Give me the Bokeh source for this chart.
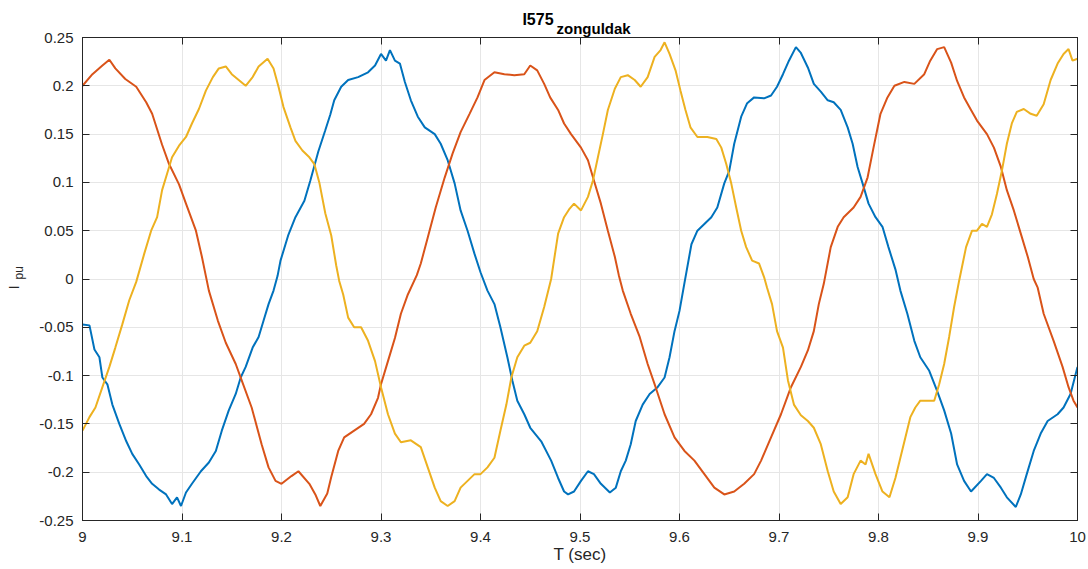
from bokeh.plotting import figure
from bokeh.models import Range1d, LinearAxis, FixedTicker, Label, CustomJSTickFormatter
from bokeh.embed import file_html
from bokeh.resources import INLINE
import math

# ---------------- data ----------------
x_ticks = [9, 9.1, 9.2, 9.3, 9.4, 9.5, 9.6, 9.7, 9.8, 9.9, 10]
x_tick_labels = ["9", "9.1", "9.2", "9.3", "9.4", "9.5", "9.6", "9.7", "9.8", "9.9", "10"]
y_ticks = [-0.25, -0.2, -0.15, -0.1, -0.05, 0, 0.05, 0.1, 0.15, 0.2, 0.25]
y_tick_labels = ["-0.25", "-0.2", "-0.15", "-0.1", "-0.05", "0", "0.05", "0.1", "0.15", "0.2", "0.25"]

t_blue = [9.000, 9.007, 9.012, 9.017, 9.020, 9.025, 9.030, 9.037, 9.044, 9.050, 9.057, 9.064, 9.070,
          9.077, 9.084, 9.090, 9.095, 9.099, 9.104, 9.110, 9.119, 9.127, 9.134, 9.140, 9.147, 9.154,
          9.159, 9.164, 9.171, 9.177, 9.182, 9.187, 9.192, 9.196, 9.199, 9.207, 9.214, 9.223, 9.229,
          9.237, 9.244, 9.249, 9.253, 9.260, 9.267, 9.277, 9.287, 9.294, 9.300, 9.305, 9.309, 9.314,
          9.319, 9.324, 9.330, 9.337, 9.344, 9.354, 9.360, 9.367, 9.374, 9.380, 9.387, 9.394, 9.400,
          9.407, 9.414, 9.420, 9.427, 9.432, 9.437, 9.444, 9.450, 9.461, 9.471, 9.478, 9.484, 9.488,
          9.494, 9.501, 9.508, 9.514, 9.521, 9.530, 9.536, 9.541, 9.546, 9.551, 9.556, 9.563, 9.570,
          9.578, 9.585, 9.590, 9.595, 9.600, 9.605, 9.612, 9.618, 9.625, 9.632, 9.638, 9.645, 9.650,
          9.655, 9.662, 9.668, 9.675, 9.685, 9.692, 9.698, 9.704, 9.710, 9.717, 9.722, 9.729, 9.735,
          9.742, 9.749, 9.755, 9.762, 9.769, 9.774, 9.779, 9.784, 9.790, 9.797, 9.804, 9.810, 9.817,
          9.822, 9.829, 9.836, 9.842, 9.851, 9.859, 9.866, 9.873, 9.879, 9.886, 9.893, 9.903, 9.909,
          9.916, 9.923, 9.929, 9.938, 9.943, 9.949, 9.956, 9.963, 9.970, 9.980, 9.986, 9.993, 10.000]
i_blue = [-0.047, -0.048, -0.073, -0.081, -0.102, -0.109, -0.130, -0.150, -0.168, -0.181, -0.192, -0.204, -0.212,
          -0.218, -0.223, -0.233, -0.226, -0.235, -0.221, -0.212, -0.199, -0.190, -0.178, -0.157, -0.136, -0.119,
          -0.102, -0.091, -0.071, -0.060, -0.043, -0.026, -0.012, 0.003, 0.019, 0.046, 0.064, 0.081, 0.102,
          0.132, 0.154, 0.170, 0.185, 0.199, 0.206, 0.209, 0.214, 0.221, 0.233, 0.226, 0.237, 0.226,
          0.223, 0.204, 0.185, 0.168, 0.157, 0.150, 0.140, 0.123, 0.099, 0.071, 0.050, 0.026, 0.007,
          -0.012, -0.026, -0.050, -0.081, -0.105, -0.126, -0.140, -0.154, -0.168, -0.188, -0.206, -0.220, -0.223,
          -0.220, -0.209, -0.199, -0.202, -0.212, -0.221, -0.216, -0.199, -0.188, -0.171, -0.147, -0.130, -0.119,
          -0.112, -0.102, -0.081, -0.054, -0.033, -0.004, 0.036, 0.050, 0.057, 0.064, 0.074, 0.099, 0.112,
          0.140, 0.168, 0.182, 0.188, 0.187, 0.190, 0.199, 0.212, 0.226, 0.240, 0.234, 0.219, 0.202,
          0.194, 0.185, 0.183, 0.175, 0.157, 0.140, 0.116, 0.099, 0.078, 0.064, 0.054, 0.033, 0.010,
          -0.012, -0.036, -0.064, -0.081, -0.095, -0.116, -0.136, -0.160, -0.192, -0.209, -0.220, -0.209, -0.202,
          -0.206, -0.216, -0.226, -0.236, -0.223, -0.202, -0.178, -0.160, -0.147, -0.140, -0.133, -0.119, -0.091]

t_red = [9.000, 9.010, 9.020, 9.027, 9.033, 9.043, 9.054, 9.064, 9.070, 9.080, 9.087, 9.097, 9.104,
         9.114, 9.120, 9.124, 9.127, 9.136, 9.144, 9.154, 9.160, 9.170, 9.180, 9.187, 9.194, 9.200,
         9.210, 9.217, 9.228, 9.234, 9.239, 9.246, 9.250, 9.257, 9.263, 9.273, 9.283, 9.290, 9.297,
         9.300, 9.307, 9.314, 9.320, 9.327, 9.336, 9.340, 9.347, 9.355, 9.364, 9.372, 9.380, 9.389,
         9.397, 9.404, 9.414, 9.424, 9.434, 9.444, 9.450, 9.457, 9.464, 9.470, 9.478, 9.484, 9.491,
         9.501, 9.508, 9.514, 9.521, 9.528, 9.535, 9.539, 9.543, 9.551, 9.560, 9.568, 9.576, 9.585,
         9.595, 9.605, 9.615, 9.625, 9.635, 9.645, 9.655, 9.665, 9.675, 9.682, 9.692, 9.702, 9.712,
         9.722, 9.729, 9.735, 9.740, 9.745, 9.752, 9.759, 9.765, 9.775, 9.782, 9.789, 9.795, 9.802,
         9.809, 9.816, 9.826, 9.836, 9.846, 9.852, 9.859, 9.866, 9.873, 9.879, 9.886, 9.893, 9.899,
         9.909, 9.916, 9.923, 9.929, 9.936, 9.943, 9.950, 9.956, 9.960, 9.966, 9.976, 9.985, 9.991,
         9.996, 10.000]
i_red = [0.200, 0.212, 0.221, 0.227, 0.218, 0.207, 0.199, 0.183, 0.171, 0.139, 0.119, 0.098, 0.078,
         0.050, 0.023, 0.003, -0.012, -0.043, -0.066, -0.088, -0.105, -0.133, -0.171, -0.195, -0.209, -0.212,
         -0.204, -0.199, -0.212, -0.223, -0.235, -0.222, -0.205, -0.178, -0.164, -0.157, -0.150, -0.140, -0.123,
         -0.109, -0.085, -0.061, -0.036, -0.016, 0.004, 0.016, 0.043, 0.074, 0.105, 0.130, 0.152, 0.171,
         0.188, 0.206, 0.214, 0.212, 0.211, 0.212, 0.221, 0.216, 0.202, 0.188, 0.175, 0.161, 0.150,
         0.136, 0.123, 0.102, 0.078, 0.050, 0.023, 0.004, -0.012, -0.036, -0.060, -0.088, -0.112, -0.140,
         -0.164, -0.178, -0.188, -0.202, -0.216, -0.223, -0.220, -0.212, -0.202, -0.188, -0.164, -0.140, -0.112,
         -0.091, -0.074, -0.054, -0.026, -0.005, 0.033, 0.054, 0.064, 0.074, 0.085, 0.105, 0.136, 0.171,
         0.188, 0.200, 0.204, 0.202, 0.212, 0.226, 0.238, 0.240, 0.224, 0.205, 0.188, 0.175, 0.164,
         0.150, 0.136, 0.116, 0.092, 0.071, 0.047, 0.023, 0.000, -0.009, -0.036, -0.064, -0.091, -0.112,
         -0.126, -0.133]

t_yellow = [9.000, 9.007, 9.013, 9.020, 9.027, 9.033, 9.040, 9.047, 9.054, 9.062, 9.069, 9.075, 9.080,
            9.085, 9.090, 9.097, 9.104, 9.110, 9.117, 9.124, 9.131, 9.137, 9.144, 9.150, 9.157, 9.164,
            9.171, 9.177, 9.186, 9.192, 9.197, 9.202, 9.209, 9.214, 9.221, 9.228, 9.233, 9.238, 9.244,
            9.250, 9.255, 9.258, 9.262, 9.267, 9.273, 9.280, 9.287, 9.294, 9.300, 9.307, 9.314, 9.320,
            9.330, 9.340, 9.347, 9.354, 9.360, 9.367, 9.374, 9.380, 9.387, 9.394, 9.400, 9.407, 9.414,
            9.420, 9.426, 9.431, 9.437, 9.444, 9.450, 9.457, 9.464, 9.471, 9.478, 9.484, 9.489, 9.494,
            9.501, 9.508, 9.513, 9.518, 9.523, 9.528, 9.535, 9.541, 9.548, 9.555, 9.561, 9.568, 9.575,
            9.581, 9.585, 9.590, 9.596, 9.601, 9.606, 9.611, 9.618, 9.628, 9.637, 9.642, 9.647, 9.652,
            9.657, 9.662, 9.667, 9.673, 9.680, 9.685, 9.688, 9.693, 9.698, 9.704, 9.709, 9.715, 9.722,
            9.729, 9.735, 9.742, 9.749, 9.755, 9.762, 9.769, 9.775, 9.782, 9.787, 9.790, 9.797, 9.804,
            9.811, 9.817, 9.822, 9.827, 9.832, 9.837, 9.842, 9.849, 9.856, 9.861, 9.866, 9.871, 9.876,
            9.881, 9.888, 9.894, 9.899, 9.904, 9.909, 9.914, 9.919, 9.924, 9.929, 9.934, 9.939, 9.946,
            9.953, 9.959, 9.966, 9.973, 9.980, 9.986, 9.991, 9.995, 10.000]
i_yellow = [-0.157, -0.143, -0.133, -0.112, -0.091, -0.071, -0.047, -0.022, -0.003, 0.026, 0.050, 0.064, 0.092,
            0.109, 0.126, 0.138, 0.147, 0.161, 0.176, 0.195, 0.209, 0.218, 0.220, 0.212, 0.206, 0.200,
            0.209, 0.220, 0.228, 0.218, 0.199, 0.178, 0.157, 0.143, 0.133, 0.126, 0.119, 0.100, 0.068,
            0.045, 0.014, -0.002, -0.016, -0.040, -0.050, -0.050, -0.064, -0.085, -0.112, -0.140, -0.160, -0.169,
            -0.167, -0.174, -0.195, -0.216, -0.230, -0.235, -0.230, -0.216, -0.209, -0.202, -0.202, -0.195, -0.185,
            -0.157, -0.130, -0.102, -0.081, -0.069, -0.066, -0.054, -0.029, 0.000, 0.047, 0.064, 0.072, 0.078,
            0.071, 0.085, 0.102, 0.126, 0.150, 0.175, 0.197, 0.209, 0.211, 0.206, 0.199, 0.209, 0.230,
            0.237, 0.245, 0.233, 0.216, 0.195, 0.175, 0.157, 0.147, 0.147, 0.145, 0.136, 0.119, 0.099,
            0.074, 0.050, 0.033, 0.019, 0.016, 0.002, -0.009, -0.026, -0.054, -0.071, -0.105, -0.130, -0.141,
            -0.147, -0.154, -0.171, -0.199, -0.220, -0.233, -0.226, -0.202, -0.188, -0.192, -0.181, -0.202, -0.220,
            -0.226, -0.206, -0.185, -0.164, -0.143, -0.133, -0.126, -0.126, -0.126, -0.109, -0.088, -0.060, -0.029,
            -0.002, 0.033, 0.050, 0.050, 0.057, 0.054, 0.067, 0.088, 0.112, 0.140, 0.161, 0.173, 0.176,
            0.171, 0.169, 0.181, 0.206, 0.223, 0.233, 0.238, 0.226, 0.228]

# ---------------- styling ----------------
FONT = "Liberation Sans"
AX = "#262626"
GRID = "#E6E6E6"

p = figure(width=1088, height=569, output_backend="svg", toolbar_location=None,
           x_range=Range1d(9, 10), y_range=Range1d(-0.25, 0.25),
           min_border_left=82, min_border_right=11, min_border_top=37, min_border_bottom=49,
           background_fill_color="white", border_fill_color="white")
p.outline_line_color = AX
p.outline_line_width = 1

p.xaxis.ticker = FixedTicker(ticks=x_ticks)
p.yaxis.ticker = FixedTicker(ticks=y_ticks)
p.xaxis.major_label_overrides = {k: v for k, v in zip(x_ticks, x_tick_labels)}
p.yaxis.major_label_overrides = {k: v for k, v in zip(y_ticks, y_tick_labels)}
p.xgrid.ticker = FixedTicker(ticks=x_ticks)
p.ygrid.ticker = FixedTicker(ticks=y_ticks)
p.grid.grid_line_color = GRID
p.grid.grid_line_width = 1

for ax in (p.xaxis[0], p.yaxis[0]):
    ax.axis_line_color = AX
    ax.major_tick_line_color = AX
    ax.major_tick_in = 7
    ax.major_tick_out = 0
    ax.minor_tick_line_color = None
    ax.major_label_text_font = FONT
    ax.major_label_text_font_size = "15px"
    ax.major_label_text_color = AX

p.xaxis.major_label_standoff = 11
p.yaxis.major_label_standoff = 9
p.xaxis.axis_label = "T (sec)"
p.xaxis.axis_label_text_font = FONT
p.xaxis.axis_label_text_font_size = "17px"
p.xaxis.axis_label_text_font_style = "normal"
p.xaxis.axis_label_text_color = AX
p.xaxis.axis_label_standoff = 0

blank = CustomJSTickFormatter(code="return ''")
top = LinearAxis(ticker=FixedTicker(ticks=x_ticks), formatter=blank)
right = LinearAxis(ticker=FixedTicker(ticks=y_ticks), formatter=blank)
for ax in (top, right):
    ax.axis_line_color = AX
    ax.major_tick_line_color = AX
    ax.major_tick_in = 7
    ax.major_tick_out = 0
    ax.minor_tick_line_color = None
    ax.major_label_standoff = 0
p.add_layout(top, "above")
p.add_layout(right, "right")

p.line(t_blue, i_blue, line_color="#0072BD", line_width=2)
p.line(t_red, i_red, line_color="#D95319", line_width=2)
p.line(t_yellow, i_yellow, line_color="#EDB120", line_width=2)

# title "I575" with subscript "zonguldak" (placed in the top panel so it is not clipped)
p.add_layout(Label(x=9.4734, y=0.2683, text="I575", text_align="right", text_baseline="alphabetic",
                   text_font=FONT, text_font_size="16px", text_font_style="bold", text_color="black"), "above")
p.add_layout(Label(x=9.4764, y=0.2590, text="zonguldak", text_align="left", text_baseline="alphabetic",
                   text_font=FONT, text_font_size="15px", text_font_style="bold", text_color="black"), "above")

# y label "I" with subscript "pu" (rotated)
p.add_layout(Label(x=8.9307, y=-0.0109, text="I", angle=math.pi / 2, text_align="left",
                   text_baseline="alphabetic", text_font=FONT, text_font_size="15px", text_color=AX), "left")
p.add_layout(Label(x=8.9357, y=-0.0005, text="pu", angle=math.pi / 2, text_align="left",
                   text_baseline="alphabetic", text_font=FONT, text_font_size="12px", text_color=AX), "left")

open("out.html", "w").write(file_html(p, INLINE))
